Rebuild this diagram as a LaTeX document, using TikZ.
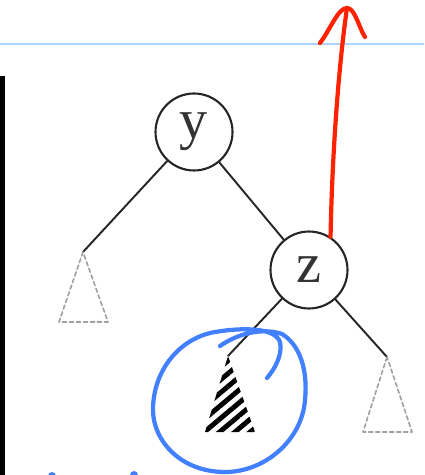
\documentclass[tikz,border=0pt]{standalone}
\usepackage{fontspec}
\setmainfont{Liberation Serif}
\usetikzlibrary{patterns.meta}

\definecolor{penred}{RGB}{255,34,0}
\definecolor{penblue}{RGB}{66,128,255}
\definecolor{ruleblue}{RGB}{172,212,255}

\begin{document}
\begin{tikzpicture}[x=0.02cm, y=-0.02cm, line cap=round, line join=round,
    key/.style={circle, draw=black!85, line width=1.2pt, minimum size=1.54cm, inner sep=0pt,
                font=\fontsize{32}{32}\selectfont, text=black!80},
    branch/.style={draw=black!85, line width=1.1pt},
    subtree/.style={draw=gray!75, line width=0.9pt, dash pattern=on 2.4pt off 1.6pt},
    hatched/.style={pattern={Lines[angle=40, distance=5.6pt, line width=2.8pt]}, pattern color=black},
    pen/.style={line width=2.4pt}]
  \clip (0,0) rectangle (424,475);
  \fill[white] (0,0) rectangle (424,475);

  % page furniture
  \draw[ruleblue, line width=1.2pt] (0,44) -- (424,44);
  \fill[black] (0,76) rectangle (5,475);

  % keys
  \node (y) [key] at (194,132) {y};
  \node (z) [key] at (309,270) {z};

  % subtree tops
  \coordinate (A) at (83,252);
  \coordinate (B) at (228,356);
  \coordinate (C) at (387,357);

  \draw[branch] (y) -- (A);
  \draw[branch] (y) -- (z);
  \draw[branch] (z) -- (B);
  \draw[branch] (z) -- (C);

  % subtrees
  \draw[subtree] (A) -- (59,322) -- (108,322) -- cycle;
  \fill[hatched] (B) -- (205,432) -- (255,432) -- cycle;
  \draw[subtree] (C) -- (363,432) -- (412,432) -- cycle;

  % red pen: arrow out of z
  \coordinate (tip) at (347,8);
  \draw[pen, penred] (z.57) .. controls (332,160) and (338,70) .. (tip);
  \draw[pen, penred] (320,43) .. controls (330,30) and (338,8) .. (tip)
                     .. controls (355,8) and (359,28) .. (365,37);

  % blue pen: loop round the hatched subtree
  \draw[pen, penblue] (220,346) .. controls (240,332) and (265,328) .. (282,334)
     .. controls (300,345) and (308,370) .. (305,400)
     .. controls (302,440) and (265,472) .. (225,472)
     .. controls (180,472) and (153,440) .. (153,410)
     .. controls (153,370) and (180,338) .. (215,332)
     .. controls (245,327) and (275,328) .. (280,342)
     .. controls (283,355) and (274,370) .. (267,378);
  \fill[penblue] (52,476) circle (4);
  \fill[penblue] (134,475) circle (4);
\end{tikzpicture}
\end{document}
